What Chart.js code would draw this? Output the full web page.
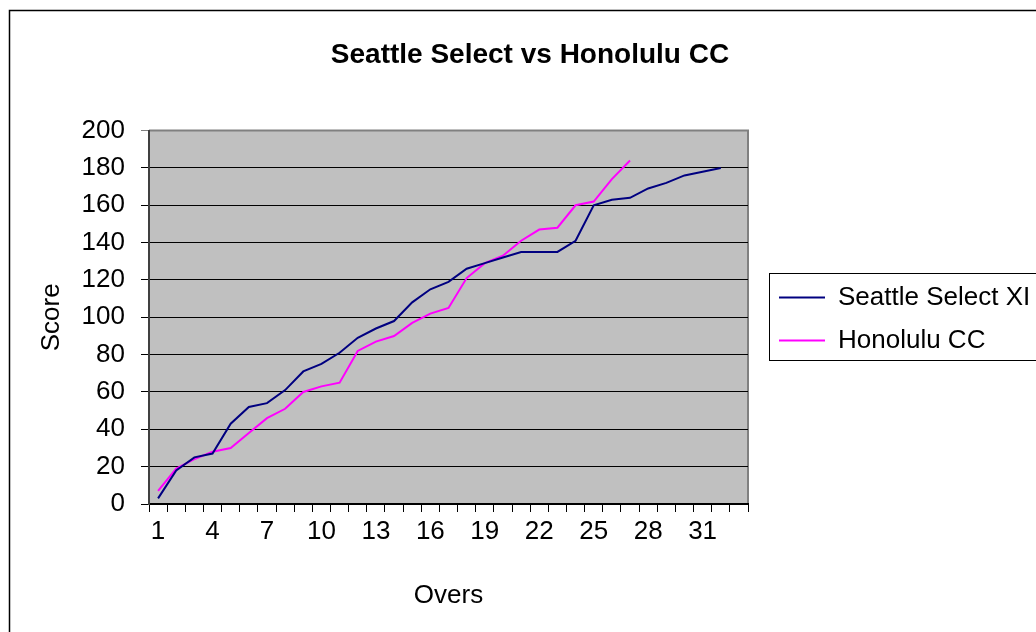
<!DOCTYPE html>
<html>
<head>
<meta charset="utf-8">
<script src="https://cdn.jsdelivr.net/npm/chart.js@4"></script>
<style>
  html, body { margin: 0; padding: 0; overflow: hidden; background: #fff; }
  #wrap { position: absolute; left: 0; top: 0; width: 1060px; height: 632px; }
</style>
</head>
<body>
<div id="wrap"><canvas id="chart"></canvas></div>
<script>
var overs = ['1','2','3','4','5','6','7','8','9','10','11','12','13','14','15','16','17',
             '18','19','20','21','22','23','24','25','26','27','28','29','30','31','32','33'];
var shownOvers = ['1','4','7','10','13','16','19','22','25','28','31'];
var seattle = [3, 18, 25, 27, 43, 52, 54, 61, 71, 75, 81, 89, 94, 98, 108, 115, 119,
               126, 129, 132, 135, 135, 135, 141, 160, 163, 164, 169, 172, 176, 178, 180];
var honolulu = [7, 19, 24, 28, 30, 38, 46, 51, 60, 63, 65, 82, 87, 90, 97, 102, 105,
                121, 129, 133, 141, 147, 148, 160, 162, 174, 184];

var FONT = "'Liberation Sans', Arial, sans-serif";
var LEGEND_W = 312;

// grey plot background + frame, outer chart border
var frame = {
  id: 'frame',
  afterInit: function(chart){
    var lg = chart.legend;
    if(!lg) return;
    var fit = lg.fit;
    lg.fit = function(){ fit.call(this); this.width = LEGEND_W; };
  },
  afterLayout: function(chart){
    var lg = chart.legend;
    lg.left += 14; lg.right += 14;
    lg.top += 3; lg.bottom += 3;
  },
  beforeDraw: function(chart){
    var ctx = chart.ctx, a = chart.chartArea;
    ctx.save();
    ctx.fillStyle = '#c0c0c0';
    ctx.fillRect(a.left, a.top, a.right - a.left, a.bottom - a.top);
    ctx.strokeStyle = '#808080';
    ctx.lineWidth = 2;
    ctx.beginPath();
    ctx.moveTo(a.left, a.top);
    ctx.lineTo(a.right, a.top);
    ctx.lineTo(a.right, a.bottom);
    ctx.stroke();
    ctx.restore();
  },
  afterDraw: function(chart){
    var ctx = chart.ctx;
    ctx.save();
    ctx.strokeStyle = '#000';
    ctx.lineWidth = 1.5;
    ctx.strokeRect(9.5, 10.5, 1200, 800);
    var hb = chart.legend.legendHitBoxes;
    if(hb && hb.length > 1){
      var x0 = hb[0].left - 10;
      var y0 = hb[0].top + hb[0].height/2 - 25;
      var y1 = hb[1].top + hb[1].height/2 + 19;
      ctx.lineWidth = 1;
      ctx.strokeStyle = '#000';
      ctx.strokeRect(Math.round(x0) + 0.5, Math.round(y0) + 0.5, 600, Math.round(y1 - y0));
    }
    ctx.restore();
  }
};

var ctx = document.getElementById('chart').getContext('2d');
var chart = new Chart(ctx, {
  type: 'line',
  data: {
    labels: overs,
    datasets: [
      {
        label: 'Seattle Select XI',
        data: seattle,
        borderColor: '#000080',
        backgroundColor: '#000080',
        borderWidth: 2,
        pointRadius: 0,
        tension: 0,
        fill: false
      },
      {
        label: 'Honolulu CC',
        data: honolulu,
        borderColor: '#ff00ff',
        backgroundColor: '#ff00ff',
        borderWidth: 2,
        pointRadius: 0,
        tension: 0,
        fill: false
      }
    ]
  },
  options: {
    responsive: true,
    maintainAspectRatio: false,
    devicePixelRatio: 1,
    animation: false,
    layout: { padding: 0 },
    plugins: {
      tooltip: { enabled: false },
      title: {
        display: true,
        text: 'Seattle Select vs Honolulu CC',
        color: '#000',
        font: { family: FONT, size: 28, weight: 'bold', lineHeight: 1.2 },
        padding: { top: 38, bottom: 59 }
      },
      legend: {
        position: 'right',
        align: 'center',
        labels: {
          color: '#000',
          font: { family: FONT, size: 26 },
          boxWidth: 46,
          boxHeight: 2,
          padding: 17,
          generateLabels: function(chart){
            var items = Chart.defaults.plugins.legend.labels.generateLabels(chart);
            items.forEach(function(it){ it.lineWidth = 0; });
            return items;
          }
        }
      }
    },
    scales: {
      x: {
        offset: true,
        afterFit: function(s){ s.height = 128; },
        grid: {
          offset: true,
          drawOnChartArea: false,
          drawTicks: true,
          tickLength: 8,
          color: '#000'
        },
        border: { color: '#000', width: 2 },
        ticks: {
          autoSkip: false,
          maxRotation: 0,
          padding: 4,
          color: '#000',
          font: { family: FONT, size: 26 },
          callback: function(v, i){
            var lab = overs[i];
            return shownOvers.indexOf(lab) >= 0 ? lab : '';
          }
        },
        title: {
          display: true,
          text: 'Overs',
          color: '#000',
          font: { family: FONT, size: 26, lineHeight: 1.2 },
          padding: { top: 0, bottom: 21 }
        }
      },
      y: {
        min: 0,
        max: 200,
        afterFit: function(s){ s.width = 149; },
        grid: {
          color: function(c){ return c.tick && c.tick.value === 200 ? '#808080' : '#000'; },
          lineWidth: 1,
          drawTicks: true,
          tickLength: 8
        },
        border: { color: '#404040', width: 2 },
        ticks: {
          stepSize: 20,
          padding: 16,
          color: '#000',
          font: { family: FONT, size: 26 }
        },
        title: {
          display: true,
          text: 'Score',
          color: '#000',
          font: { family: FONT, size: 26, lineHeight: 1.2 },
          padding: { top: 36, bottom: 0 }
        }
      }
    }
  },
  plugins: [frame]
});
</script>
</body>
</html>
